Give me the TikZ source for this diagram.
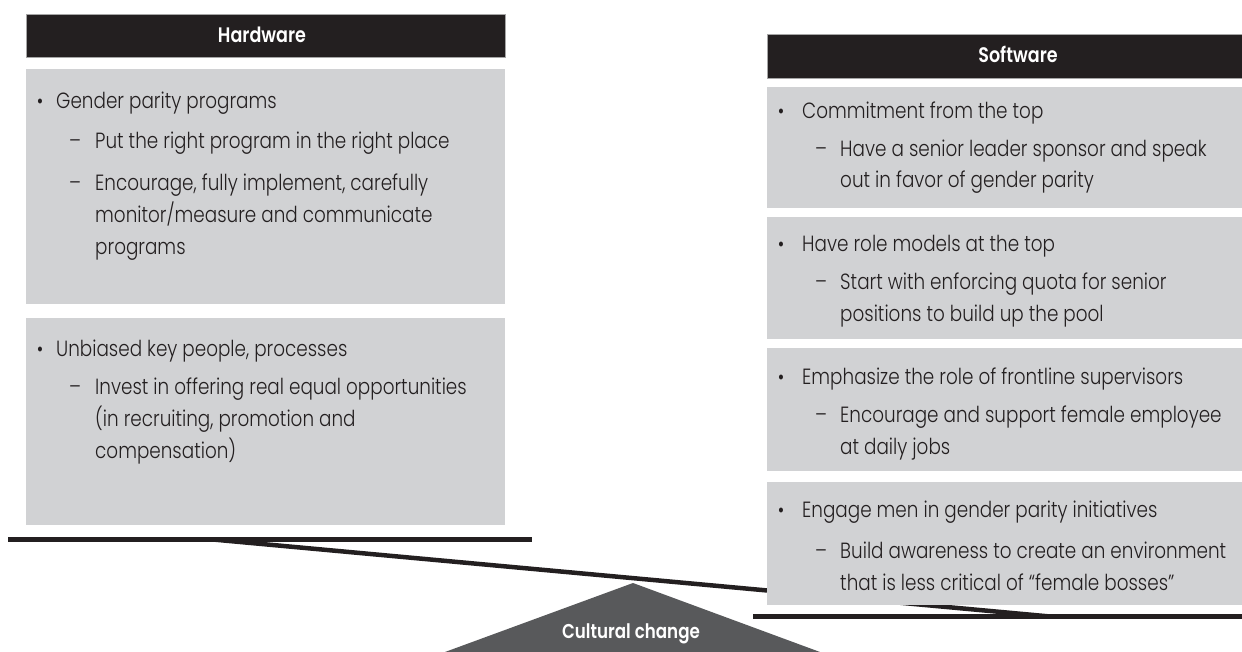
\documentclass[tikz,border=0pt]{standalone}
\usepackage{fontspec}
\setmainfont{Poppins}[FakeStretch=0.835, UprightFont=* Light, BoldFont=* SemiBold]
\definecolor{boxgray}{HTML}{D1D2D4}
\definecolor{headblack}{HTML}{231F20}
\definecolor{textc}{HTML}{231F20}
\definecolor{fulcgray}{HTML}{58595B}
\tikzset{
  panel/.style={fill=boxgray, draw=none, anchor=north west, inner sep=0, minimum width=#1},
  headbox/.style={fill=headblack, draw=gray!70, line width=0.6pt, anchor=north west, inner sep=0},
  headtxt/.style={text=white, font=\fontsize{21}{24}\selectfont\bfseries, inner sep=0, anchor=base},
  txt/.style={text=textc, font=\fontsize{22}{26}\selectfont, inner sep=0, anchor=base west},
  bul/.style={text=textc, font=\fontsize{21}{24}\selectfont, inner sep=0, anchor=base},
  bar/.style={line width=5pt, draw=headblack},
}
\begin{document}
\begin{tikzpicture}[x=1pt,y=-1pt]
\useasboundingbox (0,0) rectangle (1242,652);

% bars and beam
\coordinate (lbarA) at (8,539.5);
\coordinate (lbarB) at (532,539.5);
\coordinate (rbarA) at (753,616.5);
\coordinate (rbarB) at (1242,616.5);
\coordinate (beamL) at (213,539.5);
\coordinate (beamR) at (1050,616.5);
\draw[bar] (lbarA) -- (lbarB);
\draw[bar] (rbarA) -- (rbarB);
\draw[line width=4.5pt, draw=headblack] (beamL) -- (beamR);

% fulcrum
\coordinate (apex) at (633,583);
\coordinate (baseL) at (445,652);
\coordinate (baseR) at (820,652);
\fill[fulcgray] (apex) -- (baseR) -- (baseL) -- cycle;
\node[headtxt, font=\fontsize{20}{24}\selectfont\bfseries] (cult) at (631,638) {Cultural change};

% Hardware column
\node[headbox, minimum width=479pt, minimum height=43pt] (hwhead) at (26,14) {};
\node[headtxt] (hwtitle) at (262,43) {Hardware};
\node[panel=479pt, minimum height=235pt] (hw1) at (26,69) {};
\node[panel=479pt, minimum height=207pt] (hw2) at (26,318) {};

\node[bul] (hb1) at (40,109) {•};
\node[txt] (h1a) at (56,109) {Gender parity programs};
\node[txt] (hd1) at (69,149) {–};
\node[txt] (h1b) at (95,149) {Put the right program in the right place};
\node[txt] (hd2) at (69,190.5) {–};
\node[txt] (h1c) at (95,190.5) {Encourage, fully implement, carefully};
\node[txt] (h1d) at (95,222.5) {monitor/measure and communicate};
\node[txt] (h1e) at (95,255) {programs};

\node[bul] (hb2) at (40,356.5) {•};
\node[txt] (h2a) at (56,356.5) {Unbiased key people, processes};
\node[txt] (hd3) at (69,394.5) {–};
\node[txt] (h2b) at (95,394.5) {Invest in offering real equal opportunities};
\node[txt] (h2c) at (95,426.5) {(in recruiting, promotion and};
\node[txt] (h2d) at (95,458.5) {compensation)};

% Software column
\node[headbox, minimum width=476pt, minimum height=44pt] (swhead) at (767,34) {};
\node[headtxt] (swtitle) at (1018,63) {Software};
\node[panel=475pt, minimum height=121pt] (sw1) at (767,87) {};
\node[panel=475pt, minimum height=122pt] (sw2) at (767,217) {};
\node[panel=475pt, minimum height=123pt] (sw3) at (767,348) {};
\node[panel=475pt, minimum height=123pt] (sw4) at (767,482) {};

\node[bul] (sb1) at (781,119) {•};
\node[txt] (s1a) at (802,119) {Commitment from the top};
\node[txt] (sd1) at (815,156.5) {–};
\node[txt] (s1b) at (840,156.5) {Have a senior leader sponsor and speak};
\node[txt] (s1c) at (840,188) {out in favor of gender parity};

\node[bul] (sb2) at (781,252) {•};
\node[txt] (s2a) at (802,252) {Have role models at the top};
\node[txt] (sd2) at (815,289.5) {–};
\node[txt] (s2b) at (840,289.5) {Start with enforcing quota for senior};
\node[txt] (s2c) at (840,321.5) {positions to build up the pool};

\node[bul] (sb3) at (781,384) {•};
\node[txt] (s3a) at (802,384) {Emphasize the role of frontline supervisors};
\node[txt] (sd3) at (815,422.5) {–};
\node[txt] (s3b) at (840,422.5) {Encourage and support female employee};
\node[txt] (s3c) at (840,454.5) {at daily jobs};

\node[bul] (sb4) at (781,517.5) {•};
\node[txt] (s4a) at (802,517.5) {Engage men in gender parity initiatives};
\node[txt] (sd4) at (815,558.5) {–};
\node[txt] (s4b) at (840,558.5) {Build awareness to create an environment};
\node[txt] (s4c) at (840,590.5) {that is less critical of “female bosses”};
\end{tikzpicture}
\end{document}
